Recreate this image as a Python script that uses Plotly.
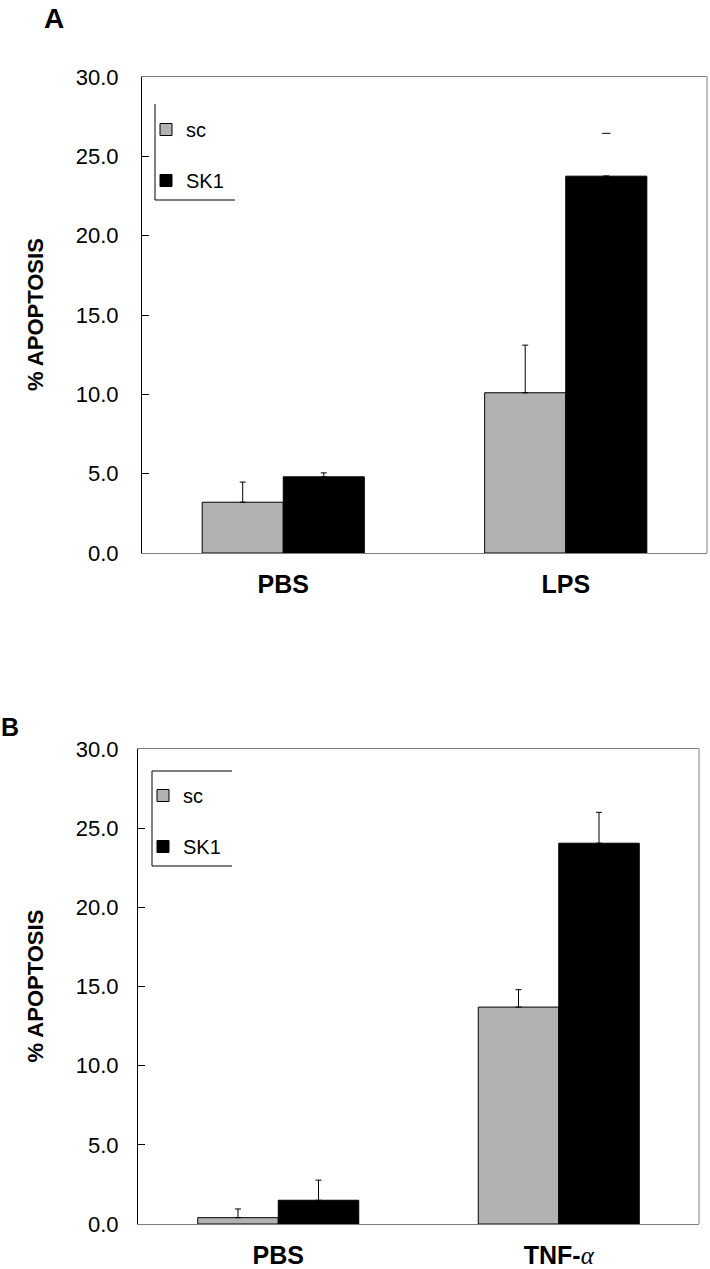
import plotly.graph_objects as go

# ---------------- data ----------------
cats_a = ["PBS", "LPS"]
sc_a = [3.2, 10.1]
sc_a_err = [1.27, 3.0]
sk1_a = [4.8, 23.75]
sk1_a_err = [0.25, 2.7]

cats_b = ["PBS",
          "TNF-<span style='font-family:Liberation Serif;font-weight:normal;font-style:italic'>α</span>"]
sc_b = [0.4, 13.7]
sc_b_err = [0.55, 1.1]
sk1_b = [1.5, 24.05]
sk1_b_err = [1.27, 1.95]

y_ticks = [0, 5, 10, 15, 20, 25, 30]

FONT = "Liberation Sans, Arial, sans-serif"
GRAY = "#b2b2b2"
W, H = 710, 1269

fig = go.Figure()
bw = 0.287

def px_x(p):
    return p / W

def px_y(p):
    return 1 - p / H

def add_panel(cats, sc, sc_err, sk1, sk1_err, xa, ya, legend, hide_stem=False):
    idx = list(range(len(cats)))
    fig.add_trace(go.Bar(
        x=idx, y=sc, name="sc", offset=-bw, width=bw,
        marker=dict(color=GRAY, line=dict(color="black", width=1)),
        error_y=dict(type="data", array=sc_err, arrayminus=[0] * len(sc), symmetric=False,
                     color="black", thickness=1, width=3),
        xaxis=xa, yaxis=ya, legend=legend, legendgroup=legend + "sc"))
    sk_err_shown = list(sk1_err)
    if hide_stem:
        sk_err_shown[-1] = 0
    fig.add_trace(go.Bar(
        x=idx, y=sk1, name="SK1", offset=0, width=bw,
        marker=dict(color="black", line=dict(color="black", width=1)),
        error_y=dict(type="data", array=sk_err_shown, arrayminus=[0] * len(sk1), symmetric=False,
                     color="black", thickness=1, width=3),
        xaxis=xa, yaxis=ya, legend=legend, legendgroup=legend + "sk1"))
    if hide_stem:
        # in the reference only the cap of the last SK1 error bar is visible
        fig.add_trace(go.Scatter(
            x=[idx[-1] + bw / 2], y=[sk1[-1] + sk1_err[-1]], mode="markers",
            marker=dict(symbol="line-ew", size=6, line=dict(color="black", width=1)),
            showlegend=False, xaxis=xa, yaxis=ya, hoverinfo="skip"))

add_panel(cats_a, sc_a, sc_a_err, sk1_a, sk1_a_err, "x", "y", "legend", hide_stem=True)
add_panel(cats_b, sc_b, sc_b_err, sk1_b, sk1_b_err, "x2", "y2", "legend2")

# plot-area geometry (pixels)
A = dict(l=142, r=707, t=77, b=553)
B = dict(l=138, r=699, t=749, b=1224)

def xaxis_cfg(geo, cats, anchor):
    return dict(domain=[px_x(geo["l"]), px_x(geo["r"])], anchor=anchor, automargin=False,
                range=[-0.5, len(cats) - 0.5], tickvals=list(range(len(cats))), ticktext=cats,
                showline=True, linecolor="#808080", linewidth=1, mirror=True,
                ticks="", showgrid=False, zeroline=False, fixedrange=True,
                tickfont=dict(family=FONT, size=25, color="black", weight="bold"),
                ticklabelstandoff=9)

def yaxis_cfg(geo, anchor, standoff):
    return dict(domain=[px_y(geo["b"]), px_y(geo["t"])], anchor=anchor, automargin=False,
                range=[0, 30], tickvals=y_ticks, tickformat=".1f",
                showline=True, linecolor="black", linewidth=1, mirror=False,
                ticks="inside", ticklen=7, tickcolor="black", tickwidth=1,
                showgrid=False, zeroline=False, fixedrange=True,
                tickfont=dict(family=FONT, size=22, color="black"),
                ticklabelstandoff=standoff)

fig.update_layout(
    template="none",
    width=W, height=H, margin=dict(l=0, r=0, t=0, b=0, pad=0, autoexpand=False),
    paper_bgcolor="white", plot_bgcolor="white",
    barmode="overlay", showlegend=True,
    xaxis=xaxis_cfg(A, cats_a, "y"),
    yaxis=yaxis_cfg(A, "x", 18),
    xaxis2=xaxis_cfg(B, cats_b, "y2"),
    yaxis2=yaxis_cfg(B, "x2", 14),
    legend=dict(x=px_x(146), y=px_y(110), xanchor="left", yanchor="top",
                bgcolor="rgba(0,0,0,0)", borderwidth=0, traceorder="grouped",
                tracegroupgap=22, font=dict(family=FONT, size=20, color="black")),
    legend2=dict(x=px_x(143), y=px_y(776), xanchor="left", yanchor="top",
                 bgcolor="rgba(0,0,0,0)", borderwidth=0, traceorder="grouped",
                 tracegroupgap=22, font=dict(family=FONT, size=20, color="black")),
)

# right frame lines (gray)
for xr, yr in [("x domain", "y domain"), ("x2 domain", "y2 domain")]:
    fig.add_shape(type="line", xref=xr, yref=yr, x0=1, x1=1, y0=0, y1=1,
                  line=dict(color="#808080", width=1))

# partial legend frames as drawn in the reference
line_k = dict(color="black", width=1)
# panel A: left + bottom
fig.add_shape(type="line", xref="paper", yref="paper", x0=px_x(155), x1=px_x(155),
              y0=px_y(104), y1=px_y(200), line=line_k)
fig.add_shape(type="line", xref="paper", yref="paper", x0=px_x(155), x1=px_x(235),
              y0=px_y(200), y1=px_y(200), line=line_k)
# panel B: left + top + bottom
fig.add_shape(type="line", xref="paper", yref="paper", x0=px_x(152), x1=px_x(152),
              y0=px_y(771), y1=px_y(866), line=line_k)
fig.add_shape(type="line", xref="paper", yref="paper", x0=px_x(152), x1=px_x(232),
              y0=px_y(771), y1=px_y(771), line=line_k)
fig.add_shape(type="line", xref="paper", yref="paper", x0=px_x(152), x1=px_x(232),
              y0=px_y(866), y1=px_y(866), line=line_k)

# y titles and panel letters
for yc in [(A["t"] + A["b"]) / 2, (B["t"] + B["b"]) / 2]:
    fig.add_annotation(text="% APOPTOSIS", xref="paper", yref="paper",
                       x=px_x(35), y=px_y(yc), textangle=-90, showarrow=False,
                       xanchor="center", yanchor="middle",
                       font=dict(family=FONT, size=22, color="black", weight="bold"))
fig.add_annotation(text="A", xref="paper", yref="paper", x=px_x(54), y=px_y(1),
                   showarrow=False, xanchor="center", yanchor="top",
                   font=dict(family=FONT, size=28, color="black", weight="bold"))
fig.add_annotation(text="B", xref="paper", yref="paper", x=px_x(10), y=px_y(727),
                   showarrow=False, xanchor="center", yanchor="middle",
                   font=dict(family=FONT, size=25, color="black", weight="bold"))

fig.write_html("out.html", config={"displayModeBar": False},
               post_script="document.body.style.margin='0';document.body.style.overflow='hidden';")
